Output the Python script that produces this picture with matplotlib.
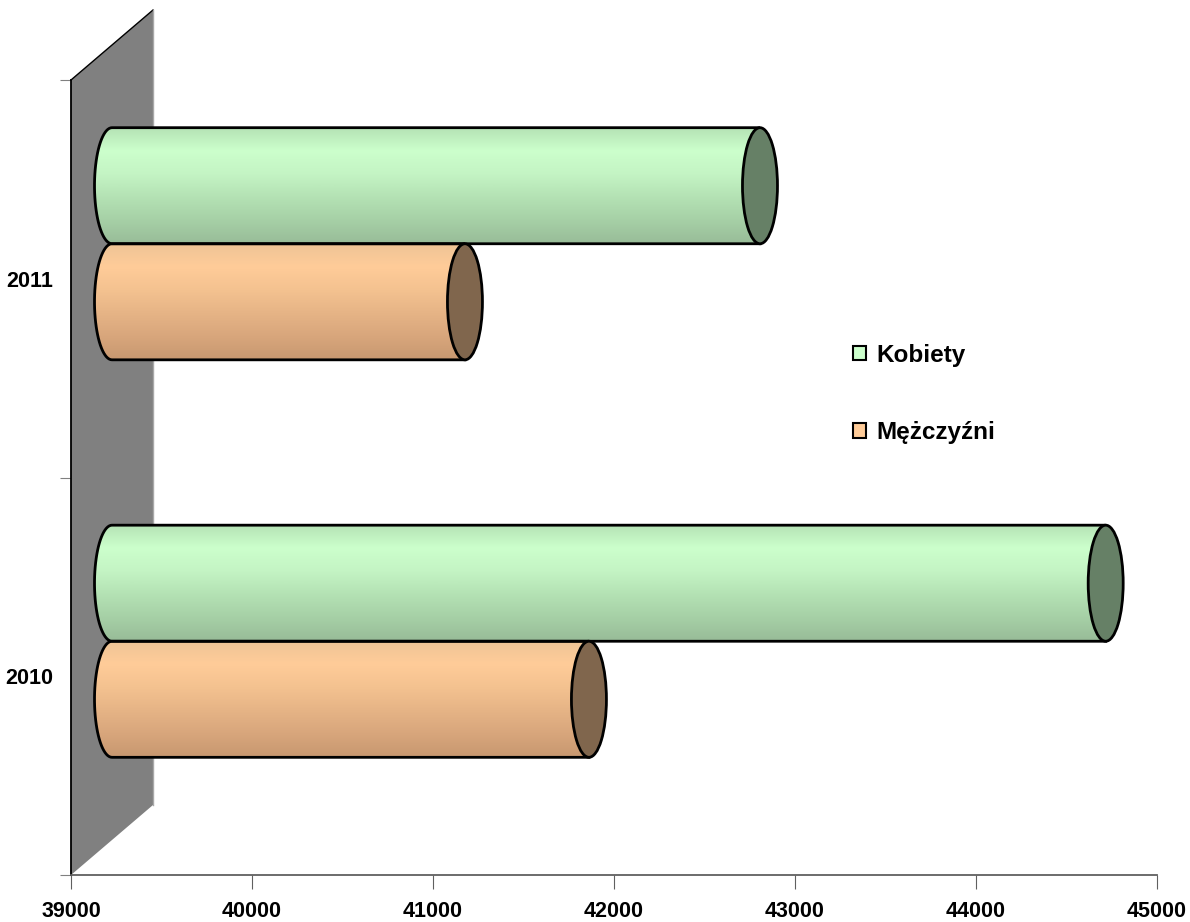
import matplotlib
matplotlib.use("Agg")
import matplotlib.pyplot as plt
import numpy as np
from matplotlib.patches import Ellipse, PathPatch, Polygon, Patch
from matplotlib.path import Path
from matplotlib.colors import LinearSegmentedColormap
from matplotlib.transforms import ScaledTranslation

# data
years = ['2010', '2011']
kobiety = [44490, 42580]
mezczyzni = [41635, 40950]
series_names = ['Kobiety', 'Mężczyźni']

plt.rcParams['font.family'] = ['Liberation Sans', 'DejaVu Sans']
plt.rcParams['font.weight'] = 'bold'

fig = plt.figure(figsize=(11.9, 9.22), dpi=100)
ax = fig.add_axes([71/1190, 47/922, 1086/1190, 795/922])

xmin, xmax = 39000, 45000
ypos = np.arange(len(years))
h = 0.292

# 3d depth: bars sit half way into the wall
shift = ScaledTranslation(0.41, 0.35, fig.dpi_scale_trans)
trans = ax.transData + shift

# back wall
dx, dy = 82/1086, 70/795
wall = Polygon([(0, 0), (0, 1), (dx, 1 + dy), (dx, dy)], transform=ax.transAxes,
               clip_on=False, fc='#808080', ec='none', zorder=1)
ax.add_patch(wall)
ax.plot([0, dx], [1, 1 + dy], color='black', lw=1, transform=ax.transAxes, clip_on=False, zorder=2)
ax.plot([dx, dx], [dy, 1 + dy], color='#a8a8a8', lw=1, transform=ax.transAxes, clip_on=False, zorder=2)

green = LinearSegmentedColormap.from_list('g', ['#b4e2b4', '#ccffcc', '#c4f4c4', '#b4e2b4', '#a6d0a6', '#98bc98'])
orange = LinearSegmentedColormap.from_list('o', ['#eec496', '#ffcc99', '#f4c290', '#e6b486', '#d8a67c', '#c89870'])

bars_k = ax.barh(ypos + h/2, [v - xmin for v in kobiety], height=h, left=xmin,
                 color='none', edgecolor='none', transform=trans)
bars_m = ax.barh(ypos - h/2, [v - xmin for v in mezczyzni], height=h, left=xmin,
                 color='none', edgecolor='none', transform=trans)

a = 17.5 * (xmax - xmin) / 1086  # half width of the end ellipse in data units
grad = np.linspace(0, 1, 200).reshape(-1, 1)


def cylinder(rect, cmap, face):
    x0 = rect.get_x()
    x1 = x0 + rect.get_width()
    yb = rect.get_y()
    yt = yb + rect.get_height()
    yc = (yb + yt) / 2
    t = np.linspace(0, np.pi, 40)
    arc = np.column_stack([x0 - a * np.sin(t), yc + (yt - yc) * np.cos(t)])
    verts = np.vstack([[x1, yt], [x0, yt], arc, [x1, yb], [x1, yt]])
    path = Path(verts)
    im = ax.imshow(grad, extent=(x0 - a, x1, yb, yt), aspect='auto', cmap=cmap,
                   transform=trans, zorder=3, interpolation='bilinear')
    clip = PathPatch(path, transform=trans, fc='none', ec='none')
    ax.add_patch(clip)
    im.set_clip_path(clip)
    ax.add_patch(PathPatch(path, transform=trans, fc='none', ec='black', lw=2, zorder=4))
    ax.add_patch(Ellipse((x1, yc), 2 * a, yt - yb, transform=trans, fc=face,
                         ec='black', lw=2, zorder=5))


for r in bars_k:
    cylinder(r, green, '#668066')
for r in bars_m:
    cylinder(r, orange, '#80664d')

ax.set_xlim(xmin, xmax)
ax.set_ylim(-0.5, 1.5)

ax.set_xticks(range(39000, 45001, 1000))
ax.tick_params(axis='x', direction='out', length=10, color='#606060', pad=9, labelsize=15.5)
ax.set_yticks([-0.5, 0.5, 1.5])
ax.set_yticklabels([])
ax.tick_params(axis='y', which='major', length=8, color='#808080')
ax.set_yticks(ypos, minor=True)
ax.set_yticklabels(years, minor=True)
ax.tick_params(axis='y', which='minor', length=0, pad=13, labelsize=15.5)

for s in ['top', 'right']:
    ax.spines[s].set_visible(False)
ax.spines['left'].set_color('black')
ax.spines['left'].set_linewidth(1.3)
ax.spines['bottom'].set_color('#606060')
ax.spines['bottom'].set_linewidth(1.3)
ax.spines['left'].set_zorder(2.5)

handles = [Patch(facecolor='#ccffcc', edgecolor='black', lw=1.5),
           Patch(facecolor='#ffcc99', edgecolor='black', lw=1.5)]
fig.legend(handles, series_names, loc='center left', bbox_to_anchor=(853/1190, 1 - 394/922),
           frameon=False, fontsize=17.5, handlelength=0.55, handleheight=0.55,
           handletextpad=0.4, labelspacing=2.25, borderpad=0, borderaxespad=0)

fig.savefig('out.png', dpi=100)
